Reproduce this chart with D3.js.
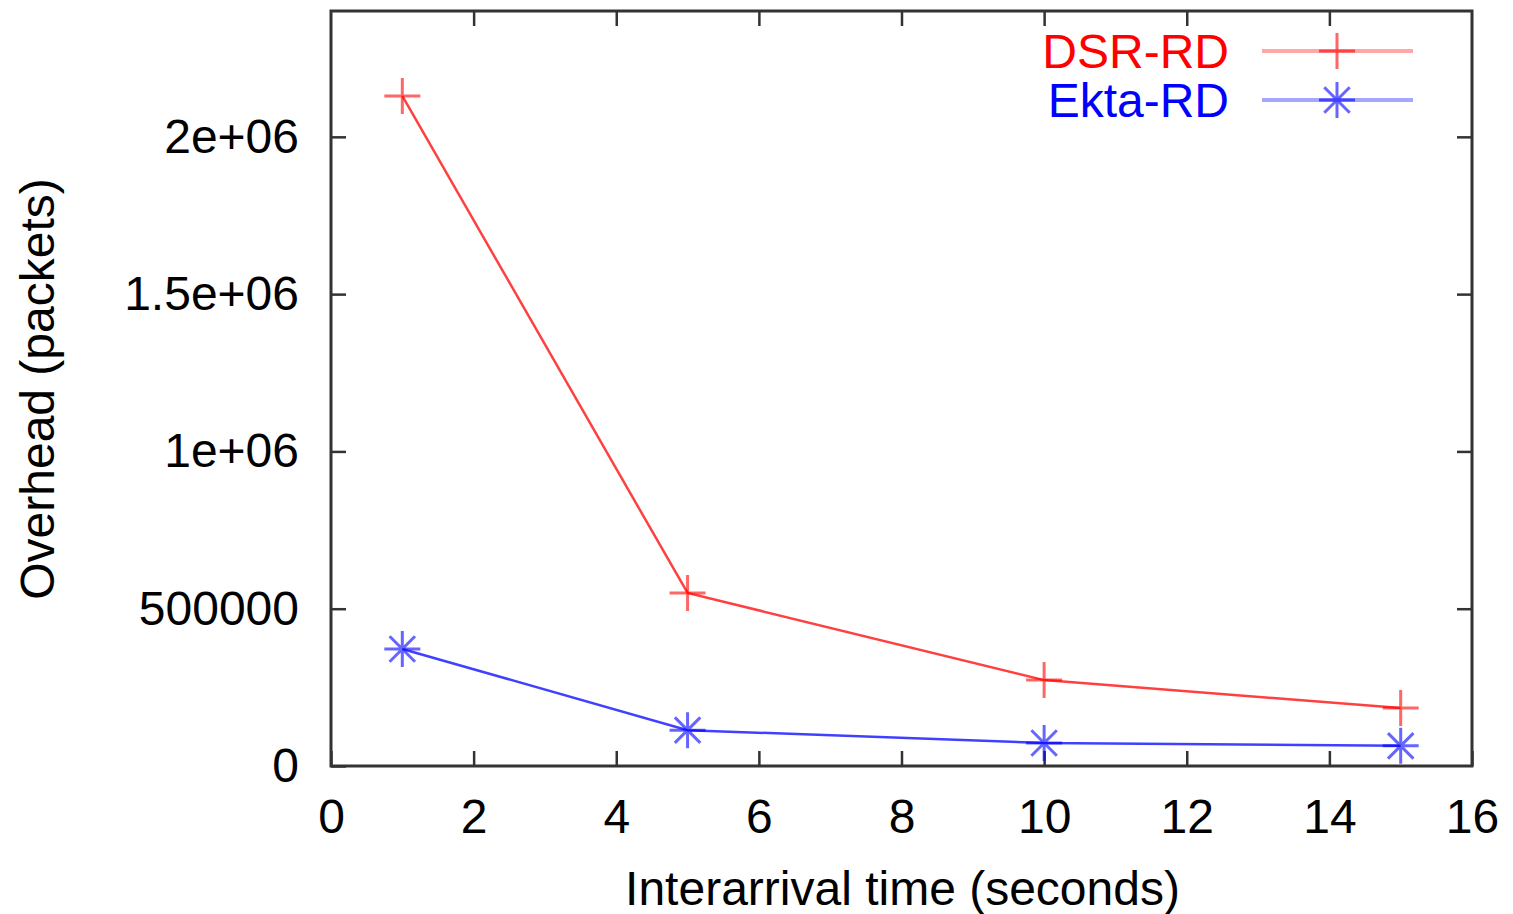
<!DOCTYPE html>
<html>
<head>
<meta charset="utf-8">
<script src="https://cdn.jsdelivr.net/npm/d3@7"></script>
<style>
  body { margin: 0; background: #fff; }
  text { font-family: "Liberation Sans", Arial, sans-serif; }
</style>
</head>
<body>
<script>
// data
var interarrival = [1, 5, 10, 15];
var dsrRD = [2130000, 550000, 273000, 184000];
var ektaRD = [372000, 114000, 73000, 64000];
var xTicks = [0, 2, 4, 6, 8, 10, 12, 14, 16];
var yTicks = [0, 500000, 1000000, 1500000, 2000000];
var yTickLabels = ["0", "500000", "1e+06", "1.5e+06", "2e+06"];
var seriesNames = ["DSR-RD", "Ekta-RD"];
var seriesColors = ["#ff0000", "#0000ff"];

var width = 1513, height = 914;
var margin = {left: 331, right: 41, top: 11, bottom: 148};
var fontSize = 48;

var svg = d3.select('body').append('svg')
  .attr('width', width).attr('height', height);

var x = d3.scaleLinear().domain([0, 16]).range([margin.left, width - margin.right]);
var y = d3.scaleLinear().domain([0, 2400000]).range([height - margin.bottom, margin.top]);

var tickLen = 15;
var axisColor = '#333';

// inner ticks on all four sides (gnuplot style)
function styleAxis(g) {
  g.select('.domain').remove();
  g.selectAll('.tick line').attr('stroke', axisColor).attr('stroke-width', 2.5);
}

svg.append('g')
  .attr('transform', 'translate(0,' + y(0) + ')')
  .call(d3.axisBottom(x).tickValues(xTicks).tickSize(-tickLen).tickPadding(33))
  .call(styleAxis)
  .selectAll('text').attr('font-size', fontSize).attr('fill', '#000').attr('dy', '0.71em');

svg.append('g')
  .attr('transform', 'translate(0,' + y(2400000) + ')')
  .call(d3.axisTop(x).tickValues(xTicks.slice(1, -1)).tickSize(-tickLen).tickFormat(''))
  .call(styleAxis);

svg.append('g')
  .attr('transform', 'translate(' + x(0) + ',0)')
  .call(d3.axisLeft(y).tickValues(yTicks).tickSize(-tickLen).tickPadding(32)
    .tickFormat(function (d, i) { return yTickLabels[i]; }))
  .call(styleAxis)
  .selectAll('text').attr('font-size', fontSize).attr('fill', '#000');

svg.append('g')
  .attr('transform', 'translate(' + x(16) + ',0)')
  .call(d3.axisRight(y).tickValues(yTicks.slice(1)).tickSize(-tickLen).tickFormat(''))
  .call(styleAxis);

// frame
svg.append('rect')
  .attr('x', x(0)).attr('y', y(2400000))
  .attr('width', x(16) - x(0)).attr('height', y(0) - y(2400000))
  .attr('fill', 'none').attr('stroke', axisColor).attr('stroke-width', 3);

// axis titles
svg.append('text')
  .attr('x', (x(0) + x(16)) / 2 + 1).attr('y', 905)
  .attr('text-anchor', 'middle').attr('font-size', fontSize)
  .text('Interarrival time (seconds)');

svg.append('text')
  .attr('transform', 'translate(54,389) rotate(-90)')
  .attr('text-anchor', 'middle').attr('font-size', fontSize)
  .text('Overhead (packets)');

// markers
function plusPath(s) {
  return 'M' + (-s) + ',0H' + s + 'M0,' + (-s) + 'V' + s;
}
function starPath(s) {
  var d = s * 0.707;
  return plusPath(s) + 'M' + (-d) + ',' + (-d) + 'L' + d + ',' + d +
    'M' + (-d) + ',' + d + 'L' + d + ',' + (-d);
}
var markerPaths = [plusPath(18), starPath(18)];

var series = [dsrRD, ektaRD];
var line = d3.line()
  .x(function (d, i) { return x(interarrival[i]); })
  .y(function (d) { return y(d); });

series.forEach(function (vals, k) {
  var g = svg.append('g');
  g.append('path')
    .attr('d', line(vals))
    .attr('fill', 'none')
    .attr('stroke', seriesColors[k])
    .attr('stroke-opacity', 0.75)
    .attr('stroke-width', 2.5);
  g.selectAll('path.mark')
    .data(vals)
    .enter().append('path')
    .attr('class', 'mark')
    .attr('transform', function (d, i) { return 'translate(' + x(interarrival[i]) + ',' + y(d) + ')'; })
    .attr('d', markerPaths[k])
    .attr('fill', 'none')
    .attr('stroke', seriesColors[k])
    .attr('stroke-opacity', 0.6)
    .attr('stroke-width', 3);
});

// legend
var legendY = [51, 100];
seriesNames.forEach(function (name, k) {
  svg.append('text')
    .attr('x', 1229).attr('y', legendY[k] + 17)
    .attr('text-anchor', 'end').attr('font-size', fontSize)
    .attr('fill', seriesColors[k])
    .text(name);
  svg.append('line')
    .attr('x1', 1262).attr('x2', 1413)
    .attr('y1', legendY[k]).attr('y2', legendY[k])
    .attr('stroke', seriesColors[k]).attr('stroke-opacity', 0.35)
    .attr('stroke-width', 4);
  svg.append('path')
    .attr('transform', 'translate(1337,' + legendY[k] + ')')
    .attr('d', markerPaths[k])
    .attr('fill', 'none')
    .attr('stroke', seriesColors[k])
    .attr('stroke-opacity', 0.6)
    .attr('stroke-width', 3);
});
</script>
</body>
</html>
